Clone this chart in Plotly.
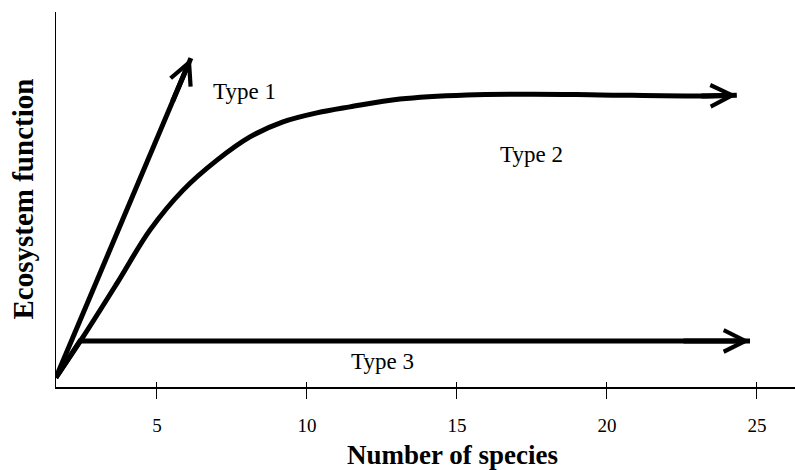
import plotly.graph_objects as go

# ---- data (x = number of species, y = ecosystem function, arbitrary 0-100) ----
x_ticks = [5, 10, 15, 20, 25]
x_tick_labels = ["5", "10", "15", "20", "25"]

type1_x = [1.63, 5.5, 6.13]
type1_y = [2.5, 75.8, 87.7]

type2_x = [1.63, 2.53, 3.67, 4.77, 5.87, 7.0, 8.1, 9.2, 10.33, 11.43, 13.1,
           15.33, 17.53, 19.77, 23.1, 24.33]
type2_y = [2.5, 13.3, 27.7, 41.9, 52.5, 60.5, 66.7, 70.7, 73.1, 74.7, 76.8,
           77.9, 78.1, 77.9, 77.6, 77.8]

type3_x = [1.63, 2.43, 22.5, 24.77]
type3_y = [2.5, 12.3, 12.3, 12.3]

labels = ["Type 1", "Type 2", "Type 3"]
label_x = [7.93, 17.5, 12.53]
label_y = [78.9, 61.9, 6.7]

FONT = "Liberation Serif"

fig = go.Figure()
for xs, ys, shp in [(type1_x, type1_y, "linear"), (type2_x, type2_y, "spline"),
                    (type3_x, type3_y, "linear")]:
    fig.add_trace(go.Scatter(x=xs, y=ys, mode="lines",
                             line=dict(color="black", width=5, shape=shp, smoothing=1.0),
                             hoverinfo="skip", showlegend=False))
    # arrow head on the last segment
    fig.add_annotation(x=xs[-1], y=ys[-1], ax=xs[-2], ay=ys[-2],
                       xref="x", yref="y", axref="x", ayref="y",
                       showarrow=True, arrowhead=5, arrowsize=0.85,
                       arrowwidth=5, arrowcolor="black", standoff=0, text="")

for t, lx, ly in zip(labels, label_x, label_y):
    fig.add_annotation(x=lx, y=ly, xref="x", yref="y", text=t, showarrow=False,
                       font=dict(family=FONT, size=23, color="black"))

fig.add_annotation(x=0.537, y=-0.181, xref="paper", yref="paper", yanchor="middle",
                   text="<b>Number of species</b>", showarrow=False,
                   font=dict(family=FONT, size=27, color="black"))
fig.add_annotation(x=-0.046, y=0.5, xref="paper", yref="paper", xanchor="center",
                   yanchor="middle",
                   text="<b>Ecosystem function</b>", showarrow=False, textangle=-90,
                   font=dict(family=FONT, size=29, color="black"))

fig.update_layout(
    width=795, height=470,
    margin=dict(l=56, r=0, t=12, b=83, autoexpand=False),
    paper_bgcolor="white", plot_bgcolor="white",
    xaxis=dict(range=[1.633, 26.27], showline=True, linecolor="black", linewidth=2,
               ticks="outside", ticklen=10, tickwidth=1, tickcolor="black",
               tickvals=x_ticks, ticktext=x_tick_labels, ticklabelstandoff=10,
               tickfont=dict(family=FONT, size=19, color="black"), automargin=False,
               showgrid=False, zeroline=False, fixedrange=True),
    xaxis2=dict(range=[1.633, 26.27], overlaying="x", anchor="y", side="bottom",
                showline=False, ticks="inside", ticklen=5, tickwidth=1, tickcolor="black",
                tickvals=x_ticks, showticklabels=False, showgrid=False, zeroline=False,
                automargin=False),
    yaxis=dict(range=[0, 100], showline=True, linecolor="black", linewidth=1,
               ticks="", showticklabels=False, showgrid=False, zeroline=False,
               automargin=False, fixedrange=True),
)
# dummy trace to activate xaxis2
fig.add_trace(go.Scatter(x=[None], y=[None], xaxis="x2", showlegend=False, hoverinfo="skip"))

fig.write_html("out.html", config={"displayModeBar": False},
               post_script="document.body.style.margin='0';")
